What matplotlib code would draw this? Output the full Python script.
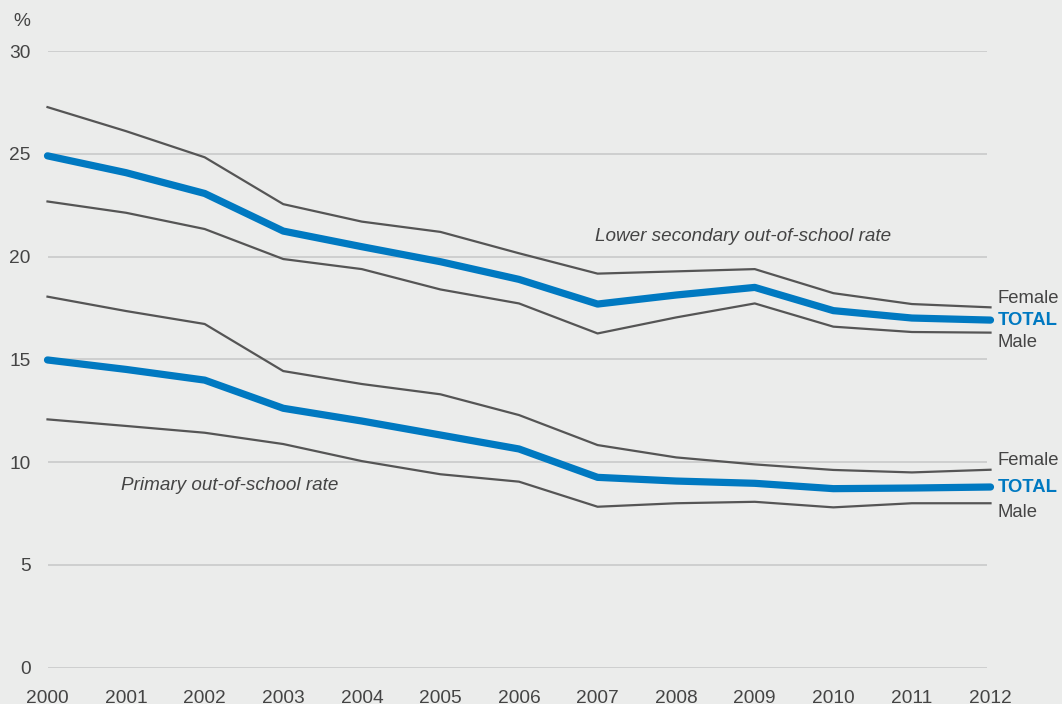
import matplotlib.pyplot as plt

years = list(range(2000, 2013))

# Lower secondary out-of-school rate (%)
lower_female = [27.27, 26.1, 24.83, 22.55, 21.7, 21.2, 20.16, 19.17, 19.28, 19.39, 18.22, 17.69, 17.53]
lower_total = [24.9, 24.08, 23.07, 21.24, 20.48, 19.75, 18.89, 17.69, 18.13, 18.5, 17.37, 17.01, 16.91]
lower_male = [22.68, 22.13, 21.34, 19.88, 19.39, 18.4, 17.72, 16.26, 17.04, 17.72, 16.59, 16.33, 16.3]

# Primary out-of-school rate (%)
prim_female = [18.05, 17.35, 16.72, 14.43, 13.8, 13.3, 12.29, 10.83, 10.23, 9.89, 9.62, 9.5, 9.63]
prim_total = [14.97, 14.51, 13.99, 12.62, 12.0, 11.32, 10.64, 9.26, 9.08, 8.97, 8.71, 8.74, 8.79]
prim_male = [12.08, 11.76, 11.43, 10.88, 10.05, 9.41, 9.05, 7.83, 8.0, 8.07, 7.8, 8.0, 8.0]

yticks = [0, 5, 10, 15, 20, 25, 30]

bg = '#ebeceb'
grey = '#555555'
blue = '#0079c1'
txt = '#444444'

plt.rcParams['font.family'] = ['Liberation Sans', 'DejaVu Sans']

fig = plt.figure(figsize=(10.62, 7.04), dpi=100, facecolor=bg)
ax = fig.add_axes([47.5 / 1062, 36.3 / 704, 943 / 1062, 616.7 / 704], facecolor=bg)

ax.hlines(yticks, 2000, 2011.96, color='#c6c7c7', lw=1.1, zorder=1)

for f, t, m in [(lower_female, lower_total, lower_male), (prim_female, prim_total, prim_male)]:
    ax.plot(years, f, color=grey, lw=1.6, zorder=2, clip_on=False)
    ax.plot(years, m, color=grey, lw=1.6, zorder=2, clip_on=False)
    ax.plot(years, t, color=blue, lw=5.2, solid_capstyle='round', zorder=3, clip_on=False)
    # end labels
    ax.annotate('Female', (years[-1], f[-1]), xytext=(5, 6.6), textcoords='offset points',
                ha='left', va='center', fontsize=13.3, color=txt, annotation_clip=False)
    ax.annotate('TOTAL', (years[-1], t[-1]), xytext=(5, 0), textcoords='offset points',
                ha='left', va='center', fontsize=13.3, color=blue, fontweight='bold',
                annotation_clip=False)
    ax.annotate('Male', (years[-1], m[-1]), xytext=(5, -7), textcoords='offset points',
                ha='left', va='center', fontsize=13.3, color=txt, annotation_clip=False)

ax.text(2006.97, 20.98, 'Lower secondary out-of-school rate', fontsize=13.6, style='italic',
        color=txt, ha='left', va='center')
ax.text(2000.93, 8.86, 'Primary out-of-school rate', fontsize=13.6, style='italic',
        color=txt, ha='left', va='center')

ax.set_xlim(2000, 2012)
ax.set_ylim(0, 30)
ax.set_xticks(years)
ax.set_xticklabels([str(y) for y in years])
ax.set_yticks(yticks)
ax.tick_params(axis='both', length=0, labelsize=13.8, colors=txt)
ax.tick_params(axis='x', pad=16)
ax.tick_params(axis='y', pad=12)
for s in ax.spines.values():
    s.set_visible(False)

fig.text(13 / 1062, 1 - 22 / 704, '%', fontsize=13.8, color=txt, ha='left', va='center')

fig.savefig('out.png', dpi=100, facecolor=bg)
